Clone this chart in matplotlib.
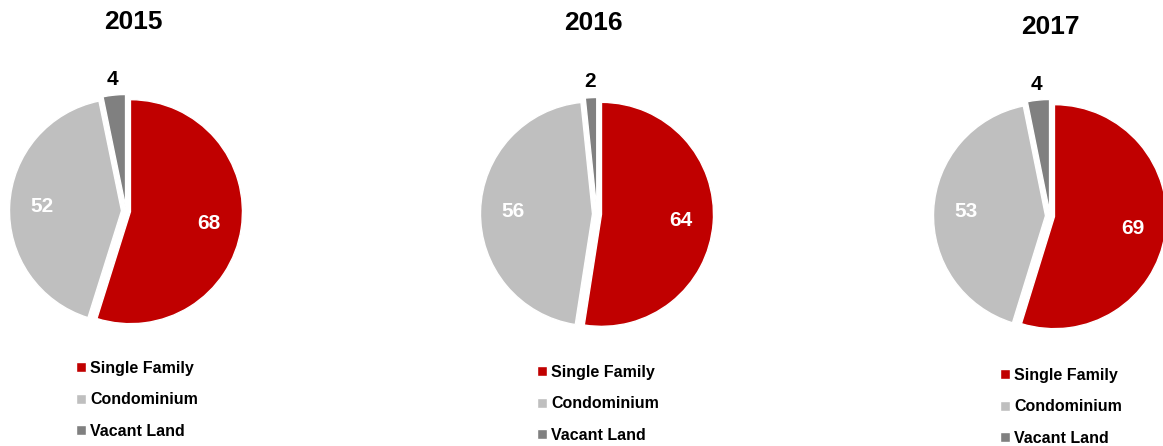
import numpy as np
import matplotlib
matplotlib.use("Agg")
import matplotlib.pyplot as plt

plt.rcParams['font.family'] = ['Liberation Sans', 'DejaVu Sans']

years = ['2015', '2016', '2017']
categories = ['Single Family', 'Condominium', 'Vacant Land']
values_2015 = [68, 52, 4]
values_2016 = [64, 56, 2]
values_2017 = [69, 53, 4]
colors = ['#C00000', '#BFBFBF', '#808080']
label_colors = ['white', 'white', 'black']

W, H = 1163, 446
# layout in pixels (image coordinates, y down)
centers = [(126, 211), (597, 214), (1050, 216)]
radius = 112
title_pos = [(133, 22), (593, 23), (1050, 27)]
legend_pos = [(76, 361), (537, 365), (1000, 368)]

fig = plt.figure(figsize=(W / 100, H / 100), dpi=100)
ax = fig.add_axes([0, 0, 1, 1])

all_values = [values_2015, values_2016, values_2017]
for i, vals in enumerate(all_values):
    cx, cy = centers[i]
    center = (cx, H - cy)
    # explode is in data units (pixels here)
    wedges, _ = ax.pie(vals, colors=colors, startangle=90, counterclock=False,
                       center=center, radius=radius, explode=[4.5] * 3,
                       wedgeprops=dict(edgecolor='white', linewidth=1),
                       frame=True)
    # data labels
    for j, w in enumerate(wedges):
        mid = np.deg2rad((w.theta1 + w.theta2) / 2)
        dist = 0.71 if j < 2 else 1.14
        x = w.center[0] + dist * radius * np.cos(mid)
        y = w.center[1] + dist * radius * np.sin(mid)
        ax.text(x, y, str(vals[j]), color=label_colors[j], fontsize=15,
                fontweight='bold', ha='center', va='center')
    tx, ty = title_pos[i]
    ax.text(tx, H - ty, years[i], fontsize=19, fontweight='bold',
            ha='center', va='center')
    lx, ly = legend_pos[i]
    fig.legend(wedges, categories, loc='upper left',
               bbox_to_anchor=(lx / W, 1 - ly / H), frameon=False,
               borderpad=0, borderaxespad=0, handlelength=0.6,
               handleheight=0.6, handletextpad=0.3, labelspacing=1.02,
               prop=dict(size=11.5, weight='bold'))

ax.set_xlim(0, W)
ax.set_ylim(0, H)
ax.set_aspect('equal')
ax.axis('off')

fig.savefig('out.png', dpi=100)
